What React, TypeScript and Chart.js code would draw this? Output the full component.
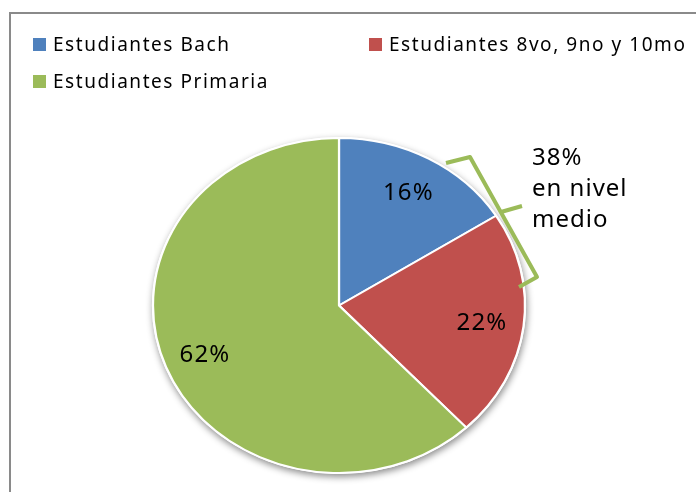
import React, { useEffect, useRef } from 'react';
import { Chart, registerables } from 'chart.js';

Chart.register(...registerables);

// ---- data ----
const categories = ['Estudiantes Bach', 'Estudiantes 8vo, 9no y 10mo', 'Estudiantes Primaria'];
const shares = [16, 22, 62];
const sliceColors = ['#4F81BD', '#C0504D', '#9BBB59'];
const noteGroup = [0, 1];
const noteLines = ['en nivel', 'medio'];

// ---- layout ----
const W = 696;
const H = 492;
const FONT = '"Noto Sans", "Open Sans", sans-serif';
const PIE_RADIUS = 167.5;
const STRETCH_X = 186 / 167.5;
const LABEL_RATIO = 0.775;
const legendSlots = [
  { x: 33, y: 38 },
  { x: 369, y: 38 },
  { x: 33, y: 75 },
];

const excelPie = {
  id: 'excelPie',
  beforeDraw(chart: any) {
    const ctx = chart.ctx as CanvasRenderingContext2D;
    ctx.save();
    ctx.fillStyle = '#ffffff';
    ctx.fillRect(0, 0, W, H);
    // frame
    ctx.strokeStyle = '#8a8a8a';
    ctx.lineWidth = 2;
    ctx.beginPath();
    ctx.moveTo(10, H + 5);
    ctx.lineTo(10, 13);
    ctx.lineTo(W + 5, 13);
    ctx.stroke();
    // legend
    ctx.font = `19px ${FONT}`;
    (ctx as any).letterSpacing = '1.55px';
    ctx.textAlign = 'left';
    ctx.textBaseline = 'alphabetic';
    categories.forEach((c, i) => {
      const p = legendSlots[i];
      ctx.fillStyle = sliceColors[i];
      ctx.fillRect(p.x, p.y, 13, 13);
      ctx.fillStyle = '#000000';
      ctx.fillText(c, p.x + 20, p.y + 13);
    });
    ctx.restore();
  },
  beforeDatasetsDraw(chart: any) {
    const ctx = chart.ctx as CanvasRenderingContext2D;
    const meta = chart.getDatasetMeta(0);
    const a = meta.data[0];
    const { x, y, outerRadius } = a.getProps(['x', 'y', 'outerRadius'], true);
    ctx.save();
    ctx.translate(x, y);
    ctx.scale(STRETCH_X, 1);
    ctx.translate(-x, -y);
    ctx.save();
    ctx.shadowColor = 'rgba(0,0,0,0.45)';
    ctx.shadowBlur = 7;
    ctx.shadowOffsetY = 3;
    ctx.shadowOffsetX = 1;
    ctx.fillStyle = '#ffffff';
    ctx.beginPath();
    ctx.arc(x, y, outerRadius + 1, 0, Math.PI * 2);
    ctx.fill();
    ctx.restore();
  },
  afterDatasetsDraw(chart: any) {
    const ctx = chart.ctx as CanvasRenderingContext2D;
    ctx.restore();
    const meta = chart.getDatasetMeta(0);
    ctx.save();
    ctx.font = `24px ${FONT}`;
    (ctx as any).letterSpacing = '1.2px';
    ctx.textAlign = 'center';
    ctx.textBaseline = 'alphabetic';
    ctx.fillStyle = '#000000';
    meta.data.forEach((arc: any, i: number) => {
      const { x, y, startAngle, endAngle, outerRadius } = arc.getProps(
        ['x', 'y', 'startAngle', 'endAngle', 'outerRadius'],
        true
      );
      const mid = (startAngle + endAngle) / 2;
      const lx = x + Math.cos(mid) * outerRadius * LABEL_RATIO * STRETCH_X;
      const ly = y + Math.sin(mid) * outerRadius * LABEL_RATIO;
      ctx.fillText(`${shares[i]}%`, lx, ly + 8.5);
    });
    ctx.restore();
  },
  afterDraw(chart: any) {
    const ctx = chart.ctx as CanvasRenderingContext2D;
    ctx.save();
    // bracket
    ctx.strokeStyle = '#9BBB59';
    ctx.lineWidth = 4;
    ctx.lineJoin = 'round';
    ctx.lineCap = 'butt';
    ctx.beginPath();
    ctx.moveTo(446, 163);
    ctx.lineTo(470, 157);
    ctx.lineTo(537, 277);
    ctx.lineTo(519, 287);
    ctx.stroke();
    ctx.beginPath();
    ctx.moveTo(501, 212);
    ctx.lineTo(522, 206);
    ctx.stroke();
    // note
    const total = noteGroup.reduce((s, i) => s + shares[i], 0);
    ctx.font = `24px ${FONT}`;
    (ctx as any).letterSpacing = '1px';
    ctx.textAlign = 'left';
    ctx.textBaseline = 'alphabetic';
    ctx.fillStyle = '#000000';
    const lines = [`${total}%`, ...noteLines];
    lines.forEach((t, i) => ctx.fillText(t, 532, 165 + i * 31));
    ctx.restore();
  },
};

export default function App() {
  const ref = useRef<HTMLCanvasElement | null>(null);
  useEffect(() => {
    if (!ref.current) return;
    const chart = new Chart(ref.current, {
      type: 'pie',
      data: {
        labels: categories,
        datasets: [
          {
            data: shares,
            backgroundColor: sliceColors,
            borderColor: '#ffffff',
            borderWidth: 2,
            radius: PIE_RADIUS,
          } as any,
        ],
      },
      options: {
        animation: false,
        responsive: false,
        devicePixelRatio: 1,
        events: [],
        layout: { padding: { left: 0, right: 18, top: 119, bottom: 0 } },
        plugins: { legend: { display: false }, tooltip: { enabled: false } },
      },
      plugins: [excelPie],
    });
    return () => chart.destroy();
  }, []);
  return (
    <div style={{ position: 'absolute', left: 0, top: 0, width: W, height: H, background: '#fff' }}>
      <canvas ref={ref} width={W} height={H} style={{ display: 'block' }} />
    </div>
  );
}
